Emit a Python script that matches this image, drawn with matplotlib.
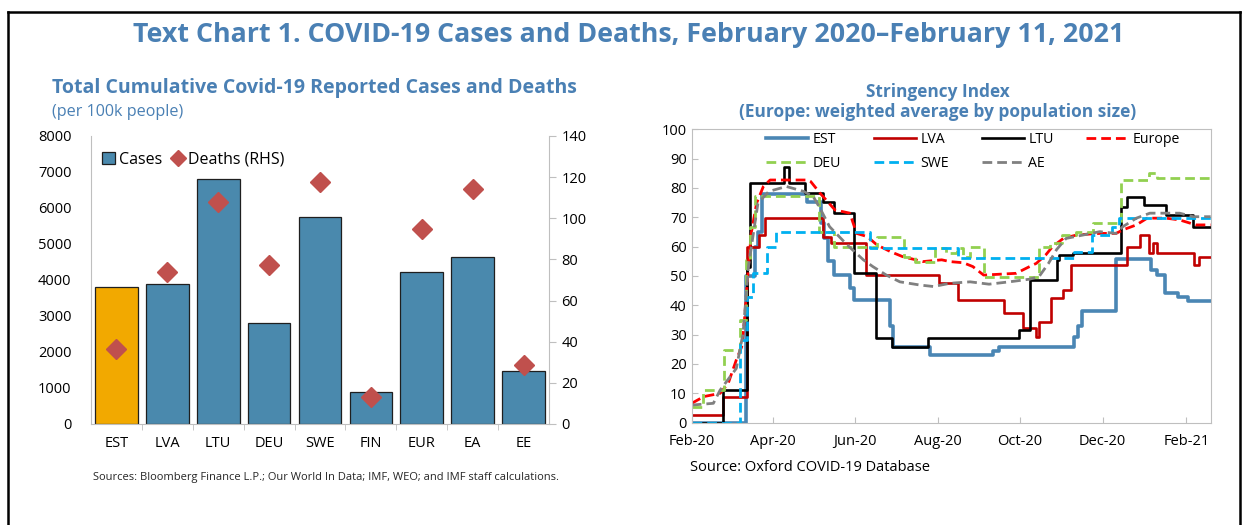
import matplotlib
matplotlib.use("Agg")
import numpy as np
import pandas as pd
import matplotlib.pyplot as plt
import matplotlib.dates as mdates
from matplotlib.patches import Patch
from matplotlib.lines import Line2D

plt.rcParams["font.family"] = ["Open Sans", "DejaVu Sans"]

BLUE_TITLE = "#4A80B4"
GREY_AXIS = "#BFBFBF"

# ---- left chart: cases and deaths per 100k
countries = ["EST", "LVA", "LTU", "DEU", "SWE", "FIN", "EUR", "EA", "EE"]
cases = [3800, 3900, 6800, 2800, 5750, 900, 4230, 4650, 1480]
deaths = [36.5, 74, 108, 77.5, 117.5, 13, 95, 114, 28.5]

# ---- right chart: stringency index
est_dates = ["2020-02-01", "2020-03-12", "2020-03-19", "2020-03-21", "2020-03-24", "2020-04-26",
             "2020-05-07", "2020-05-09", "2020-05-12", "2020-05-16", "2020-05-28", "2020-05-31",
             "2020-06-27", "2020-06-29", "2020-07-26", "2020-09-11", "2020-09-15", "2020-11-10",
             "2020-11-13", "2020-11-16", "2020-12-11", "2021-01-06", "2021-01-10", "2021-01-16",
             "2021-01-26", "2021-02-02", "2021-02-19"]
est_vals = [0, 50, 60, 65, 77.8, 75.3, 68, 63, 55, 50.3, 46, 41.8, 33, 25.9, 23.1, 24.5, 25.9,
            29.3, 33, 38.2, 55.7, 52, 50.3, 44.3, 43, 41.6, 41.6]

lva_dates = ["2020-02-01", "2020-02-24", "2020-03-13", "2020-03-22", "2020-03-26", "2020-05-08",
             "2020-05-14", "2020-06-09", "2020-08-02", "2020-08-16", "2020-09-19", "2020-10-03",
             "2020-10-13", "2020-10-15", "2020-10-24", "2020-11-02", "2020-11-08", "2020-12-19",
             "2020-12-29", "2021-01-04", "2021-01-07", "2021-01-10", "2021-02-07", "2021-02-10",
             "2021-02-19"]
lva_vals = [2.6, 8.6, 60, 64, 69.7, 63.4, 61.4, 50.3, 47.5, 41.8, 37.3, 32.2, 29.3, 34.4, 42.4,
            45.2, 53.8, 60, 64, 57.7, 61.1, 57.7, 53.8, 56.6, 56.6]

ltu_dates = ["2020-02-01", "2020-02-24", "2020-03-13", "2020-03-15", "2020-04-09", "2020-04-13",
             "2020-04-25", "2020-05-08", "2020-05-16", "2020-05-31", "2020-06-16", "2020-06-28",
             "2020-07-25", "2020-09-30", "2020-10-08", "2020-10-28", "2020-10-30", "2020-11-09",
             "2020-12-15", "2020-12-19", "2021-01-01", "2021-01-17", "2021-02-06", "2021-02-19"]
ltu_vals = [0, 11.1, 53, 81.8, 87.3, 81.8, 78.2, 75.3, 71.4, 50.9, 28.8, 25.9, 28.8, 31.6, 48.6,
            55.5, 57.2, 57.7, 73.4, 77, 74.2, 70.8, 66.8, 66.8]

europe_dates = ["2020-02-01", "2020-02-10", "2020-02-22", "2020-02-28", "2020-03-05", "2020-03-09",
                "2020-03-11", "2020-03-14", "2020-03-16", "2020-03-20", "2020-03-25", "2020-03-30",
                "2020-04-27", "2020-04-29", "2020-05-06", "2020-05-17", "2020-05-28", "2020-06-02",
                "2020-06-10", "2020-06-17", "2020-06-27", "2020-07-06", "2020-07-21", "2020-08-04",
                "2020-08-10", "2020-08-20", "2020-08-27", "2020-09-04", "2020-09-28", "2020-10-08",
                "2020-10-13", "2020-10-20", "2020-10-25", "2020-11-02", "2020-11-12", "2020-11-29",
                "2020-12-11", "2020-12-16", "2020-12-26", "2021-01-03", "2021-01-17", "2021-01-27",
                "2021-02-08", "2021-02-19"]
europe_vals = [6.6, 8.9, 10, 13.4, 21.4, 25.9, 35, 53.2, 64.5, 74.8, 80.5, 82.7, 82.7, 82.2, 78.2,
               72.5, 71.4, 64.5, 63.4, 60.6, 58.3, 56.6, 54.9, 55.5, 54.9, 54.5, 53.2, 50.3, 50.9,
               53.2, 54.3, 57.2, 60, 62.8, 64, 64.5, 64.5, 65.7, 67.4, 69.7, 69.7, 69.1, 67.4, 67.4]

deu_dates = ["2020-02-01", "2020-02-09", "2020-02-25", "2020-03-08", "2020-03-12", "2020-03-15",
             "2020-03-19", "2020-05-05", "2020-05-16", "2020-06-17", "2020-07-07", "2020-07-15",
             "2020-07-30", "2020-08-07", "2020-08-15", "2020-08-20", "2020-08-25", "2020-09-04",
             "2020-10-15", "2020-10-23", "2020-11-01", "2020-11-11", "2020-11-24", "2020-12-15",
             "2021-01-04", "2021-01-10", "2021-02-19"]
deu_vals = [5.5, 11.1, 24.8, 35, 55.5, 66.8, 77.3, 65.1, 60, 63.4, 56.6, 54.9, 59.4, 57.7, 59.4,
            56.6, 60, 49.8, 60, 61.1, 64, 65.1, 67.9, 82.7, 85, 83.3, 83.3]

swe_dates = ["2020-02-01", "2020-03-08", "2020-03-13", "2020-03-17", "2020-03-28", "2020-04-03",
             "2020-06-12", "2020-08-16", "2020-11-10", "2020-11-23", "2020-12-08", "2020-12-13",
             "2021-02-19"]
swe_vals = [0, 28.2, 43, 50.9, 60, 65.1, 59.4, 56, 58.3, 64, 66.8, 69.7, 69.7]

ae_dates = ["2020-02-01", "2020-02-17", "2020-02-22", "2020-03-05", "2020-03-10", "2020-03-14",
            "2020-03-18", "2020-03-21", "2020-03-29", "2020-04-11", "2020-04-24", "2020-05-01",
            "2020-05-06", "2020-05-13", "2020-05-26", "2020-06-07", "2020-06-14", "2020-06-24",
            "2020-07-04", "2020-07-19", "2020-07-29", "2020-08-10", "2020-08-25", "2020-09-08",
            "2020-09-23", "2020-10-08", "2020-10-15", "2020-10-22", "2020-10-28", "2020-11-04",
            "2020-11-17", "2020-11-29", "2020-12-11", "2020-12-16", "2020-12-26", "2021-01-05",
            "2021-01-27", "2021-02-06", "2021-02-19"]
ae_vals = [6, 6.6, 11.1, 18.5, 30.5, 53.2, 65.7, 74.8, 78.8, 80.5, 78.8, 77, 73, 66.8, 60.6, 55.5,
           53.2, 50.3, 48, 46.9, 46.4, 47.5, 48, 47.2, 48, 48.9, 49.8, 54.3, 59, 62.8, 64, 65.1,
           64.5, 66.8, 69.7, 71.4, 71.4, 70.2, 70.2]

fig = plt.figure(figsize=(12.43, 5.25), dpi=100)

# frame around the figure
for xs, ys in [([0.0064, 0.0064], [0, 0.977]), ([0.0064, 0.9976], [0.977, 0.977]),
               ([0.9976, 0.9976], [0, 0.977])]:
    fig.add_artist(Line2D(xs, ys, transform=fig.transFigure, color="black", lw=1.8))

fig.text(0.506, 0.933, "Text Chart 1. COVID-19 Cases and Deaths, February 2020\u2013February 11, 2021",
         ha="center", va="center", fontsize=19.3, fontweight="bold", color=BLUE_TITLE)

# ---------------- left chart
ax1 = fig.add_axes([0.0732, 0.1924, 0.3685, 0.5486])
x = np.arange(len(countries))
bar_colors = ["#F2A900"] + ["#4A89AD"] * (len(countries) - 1)
ax1.bar(x, cases, width=0.84, color=bar_colors, edgecolor="#1F1F1F", linewidth=0.9, zorder=2)
ax1.set_xlim(-0.5, 8.5)
ax1.set_ylim(0, 8000)
ax1.set_yticks(np.arange(0, 8001, 1000))
ax1.set_xticks(x)
ax1.set_xticklabels(countries)
ax1.set_xticks(np.arange(0.5, 8, 1), minor=True)
ax1.tick_params(axis="x", which="major", length=0, pad=9, labelsize=10.5)
ax1.tick_params(axis="x", which="minor", length=4, color=GREY_AXIS, direction="out")
ax1.tick_params(axis="y", length=0, pad=14, labelsize=10.5)
for side in ("top", "right"):
    ax1.spines[side].set_visible(False)
for side in ("left", "bottom"):
    ax1.spines[side].set_color(GREY_AXIS)

ax1r = ax1.twinx()
ax1r.plot(x, deaths, "D", color="#C0504D", ms=10.5, zorder=3)
ax1r.set_ylim(0, 140)
ax1r.set_yticks(np.arange(0, 141, 20))
ax1r.tick_params(axis="y", length=5, color=GREY_AXIS, labelsize=10.5, pad=4)
for side in ("top", "left", "bottom"):
    ax1r.spines[side].set_visible(False)
ax1r.spines["right"].set_color(GREY_AXIS)

handles = [Patch(facecolor="#4A89AD", edgecolor="#1F1F1F", linewidth=0.9),
           Line2D([], [], marker="D", ls="none", color="#C0504D", ms=8)]
ax1.legend(handles, ["Cases", "Deaths (RHS)"], loc="upper left", bbox_to_anchor=(0.024, 0.945),
           ncol=2, frameon=False, fontsize=11.5, handlelength=0.8, handleheight=0.8,
           handletextpad=0.25, columnspacing=0.6, borderpad=0, borderaxespad=0)

fig.text(0.0418, 0.8324, "Total Cumulative Covid-19 Reported Cases and Deaths", ha="left",
         va="center", fontsize=14, fontweight="bold", color=BLUE_TITLE)
fig.text(0.0418, 0.7867, "(per 100k people)", ha="left", va="center", fontsize=11.6,
         color=BLUE_TITLE)
fig.text(0.0748, 0.0914, "Sources: Bloomberg Finance L.P.; Our World In Data; IMF, WEO; and IMF staff calculations.",
         ha="left", va="center", fontsize=8, color="#262626")

# ---------------- right chart
ax2 = fig.add_axes([0.5565, 0.1949, 0.4175, 0.5589])
series = [
    ("EST", est_dates, est_vals, "#4A86B4", "-", 2.6, "steps-post"),
    ("LVA", lva_dates, lva_vals, "#C00000", "-", 1.9, "steps-post"),
    ("LTU", ltu_dates, ltu_vals, "black", "-", 1.9, "steps-post"),
    ("Europe", europe_dates, europe_vals, "#FF0000", "--", 2.0, "default"),
    ("DEU", deu_dates, deu_vals, "#92D050", "--", 2.0, "steps-post"),
    ("SWE", swe_dates, swe_vals, "#00B0F0", "--", 2.0, "steps-post"),
    ("AE", ae_dates, ae_vals, "#808080", "--", 2.0, "default"),
]
lines = {}
for name, dates, vals, color, ls, lw, ds in series:
    (ln,) = ax2.plot(pd.to_datetime(dates), vals, color=color, ls=ls, lw=lw, drawstyle=ds,
                     label=name)
    if ls == "--":
        ln.set_dashes((3.5, 1.8))
    lines[name] = ln

ax2.set_xlim(pd.Timestamp("2020-02-01"), pd.Timestamp("2021-02-19"))
ax2.set_ylim(0, 100)
ax2.set_yticks(np.arange(0, 101, 10))
ax2.xaxis.set_major_locator(mdates.MonthLocator(bymonth=[2, 4, 6, 8, 10, 12]))
ax2.xaxis.set_major_formatter(mdates.DateFormatter("%b-%y"))
ax2.tick_params(axis="both", direction="in", length=4, color=GREY_AXIS, labelsize=10.5)
ax2.tick_params(axis="x", pad=8)
for side in ax2.spines:
    ax2.spines[side].set_color(GREY_AXIS)

order = ["EST", "DEU", "LVA", "SWE", "LTU", "AE", "Europe"]
ax2.legend([lines[n] for n in order], order, loc="upper left", bbox_to_anchor=(0.143, 0.99),
           ncol=4, frameon=False, fontsize=10.2, handlelength=3.0, handletextpad=0.3,
           columnspacing=2.3, labelspacing=0.65, borderpad=0, borderaxespad=0)

fig.text(0.7546, 0.8248, "Stringency Index", ha="center", va="center", fontsize=12.4,
         fontweight="bold", color=BLUE_TITLE)
fig.text(0.7546, 0.7867, "(Europe: weighted average by population size)", ha="center",
         va="center", fontsize=12.5, fontweight="bold", color=BLUE_TITLE)
fig.text(0.5551, 0.1086, "Source: Oxford COVID-19 Database", ha="left", va="center",
         fontsize=10.5, color="black")

fig.savefig("out.png", dpi=100)
